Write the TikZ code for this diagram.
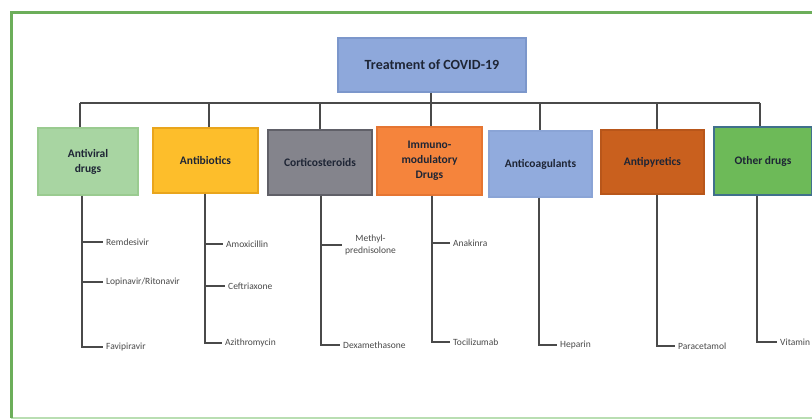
\documentclass[tikz,border=0pt]{standalone}
\usepackage{fontspec}
\setmainfont{Carlito}
\definecolor{frameg}{HTML}{6CAE5A}
\definecolor{framegl}{HTML}{B9DEB2}
\definecolor{linec}{HTML}{4A4A4A}
\definecolor{txt}{HTML}{1E2535}
\definecolor{lbl}{HTML}{4A4A4A}
\definecolor{rootf}{HTML}{8EA8DB}\definecolor{rootd}{HTML}{7C97CB}
\definecolor{avf}{HTML}{A8D5A2}\definecolor{avd}{HTML}{9ACB90}
\definecolor{abf}{HTML}{FDBE2B}\definecolor{abd}{HTML}{E9A51C}
\definecolor{csf}{HTML}{84848C}\definecolor{csd}{HTML}{606068}
\definecolor{imf}{HTML}{F5843C}\definecolor{imd}{HTML}{E57532}
\definecolor{acf}{HTML}{91ABDD}\definecolor{acd}{HTML}{8AA4D6}
\definecolor{apf}{HTML}{C9601E}\definecolor{apd}{HTML}{B8561A}
\definecolor{odf}{HTML}{6DBA58}\definecolor{odd}{HTML}{40708C}
\begin{document}
\begin{tikzpicture}[x=1pt,y=-1pt,
  catbox/.style={draw, line width=1.2pt, rectangle, align=center, font=\bfseries\fontsize{11.5}{15}\selectfont, text=txt, inner sep=1pt},
  bus/.style={draw=linec, line width=1.5pt},
  sub/.style={draw=linec, line width=1.3pt},
  druglbl/.style={anchor=west, inner xsep=3pt, inner ysep=1pt, font=\fontsize{9.5}{11.5}\selectfont, text=lbl, align=center}]
\useasboundingbox (0,0) rectangle (812,420);
\clip (0,0) rectangle (812,420);
\fill[white] (0,0) rectangle (812,420);
% frame
\draw[framegl, line width=1.5pt] (11,418) -- (830,418);
\draw[frameg, line width=3pt] (11,418) -- (11,13) -- (830,13);
% root
\node[catbox, fill=rootf, draw=rootd, minimum width=188pt, minimum height=54pt, font=\bfseries\fontsize{14}{16}\selectfont] (root) at (432,65) {Treatment of COVID-19};
% categories
\node[catbox, fill=avf, draw=avd, minimum width=100pt, minimum height=67pt] (av) at (88,161.5) {Antiviral\\drugs};
\node[catbox, fill=abf, draw=abd, minimum width=105pt, minimum height=65pt] (ab) at (205.5,160.5) {Antibiotics};
\node[catbox, fill=csf, draw=csd, minimum width=104pt, minimum height=65pt] (cs) at (320,162.5) {Corticosteroids};
\node[catbox, fill=imf, draw=imd, minimum width=105pt, minimum height=68pt] (im) at (429.5,161) {Immuno-\\modulatory\\Drugs};
\node[catbox, fill=acf, draw=acd, minimum width=103pt, minimum height=66pt] (ac) at (540.5,164) {Anticoagulants};
\node[catbox, fill=apf, draw=apd, minimum width=103pt, minimum height=64pt] (ap) at (652.5,162) {Antipyretics};
\node[catbox, fill=odf, draw=odd, minimum width=98pt, minimum height=68pt] (od) at (763,161) {Other drugs};
% bus
\coordinate (b1) at (80,103);
\coordinate (b2) at (209,103);
\coordinate (b3) at (320,103);
\coordinate (b4) at (431,103);
\coordinate (b5) at (540,103);
\coordinate (b6) at (657,103);
\coordinate (b7) at (760,103);
\draw[bus] (b1) -- (b7);
\draw[bus] (root.south -| b4) -- (b4);
\draw[bus] (b1) -- (b1 |- av.north);
\draw[bus] (b2) -- (b2 |- ab.north);
\draw[bus] (b3) -- (b3 |- cs.north);
\draw[bus] (b4) -- (b4 |- im.north);
\draw[bus] (b5) -- (b5 |- ac.north);
\draw[bus] (b6) -- (b6 |- ap.north);
\draw[bus] (b7) -- (b7 |- od.north);
% drug labels
\node[druglbl] (rem) at (103,242) {Remdesivir};
\node[druglbl] (lop) at (103,282) {Lopinavir/Ritonavir};
\node[druglbl] (fav) at (103,347) {Favipiravir};
\node[druglbl] (amo) at (223,244) {Amoxicillin};
\node[druglbl] (cef) at (225,286) {Ceftriaxone};
\node[druglbl] (azi) at (222,343) {Azithromycin};
\node[druglbl] (met) at (342,245) {Methyl-\\prednisolone};
\node[druglbl] (dex) at (340,345) {Dexamethasone};
\node[druglbl] (ana) at (450,243) {Anakinra};
\node[druglbl] (toc) at (450,342) {Tocilizumab};
\node[druglbl] (hep) at (557,345) {Heparin};
\node[druglbl] (par) at (675,346) {Paracetamol};
\node[druglbl] (vit) at (777,342) {Vitamin};
% sub connectors
\coordinate (s1) at (82,0);
\coordinate (s2) at (205,0);
\coordinate (s3) at (321,0);
\coordinate (s4) at (432,0);
\coordinate (s5) at (539,0);
\coordinate (s6) at (657,0);
\coordinate (s7) at (757,0);
\draw[sub] (s1 |- av.south) |- (fav.west);
\draw[sub] (s1 |- rem.west) -- (rem.west);
\draw[sub] (s1 |- lop.west) -- (lop.west);
\draw[sub] (s2 |- ab.south) |- (azi.west);
\draw[sub] (s2 |- amo.west) -- (amo.west);
\draw[sub] (s2 |- cef.west) -- (cef.west);
\draw[sub] (s3 |- cs.south) |- (dex.west);
\draw[sub] (s3 |- met.west) -- (met.west);
\draw[sub] (s4 |- im.south) |- (toc.west);
\draw[sub] (s4 |- ana.west) -- (ana.west);
\draw[sub] (s5 |- ac.south) |- (hep.west);
\draw[sub] (s6 |- ap.south) |- (par.west);
\draw[sub] (s7 |- od.south) |- (vit.west);
\end{tikzpicture}
\end{document}
